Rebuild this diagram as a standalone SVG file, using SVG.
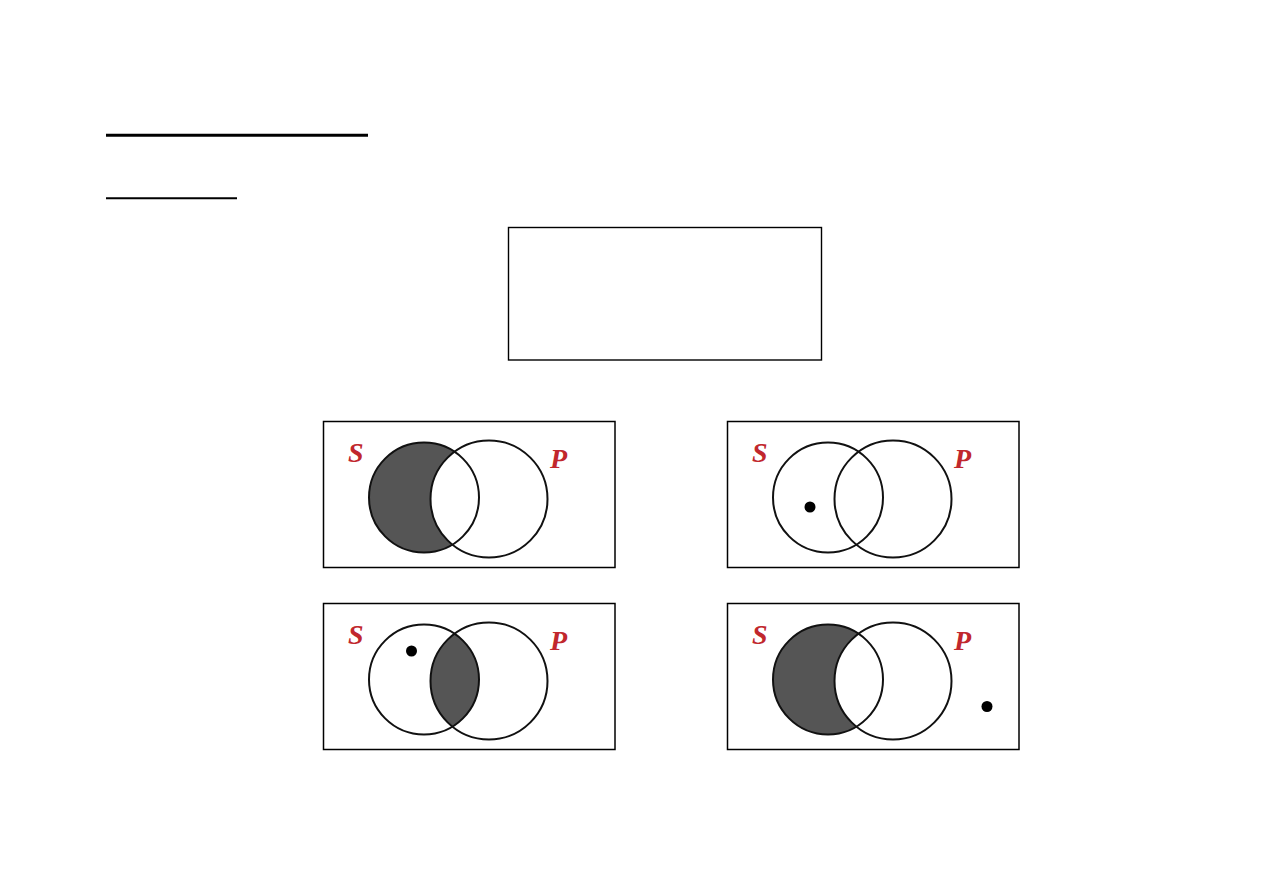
<svg xmlns="http://www.w3.org/2000/svg" xmlns:xlink="http://www.w3.org/1999/xlink" width="1263" height="893" viewBox="0 0 1263 893">
<style>
.frame{fill:#fff;stroke:#000;stroke-width:1.5}
.circ{fill:none;stroke:#111;stroke-width:2}
.shade{fill:#555}
.lbl{font-family:"Liberation Serif",serif;font-style:italic;font-weight:bold;font-size:28px;fill:#c1272d}
.dot{fill:#000}
</style>
<defs>
<clipPath id="clipS"><circle cx="424" cy="497.5" r="55"/></clipPath>
<g id="base">
<rect class="frame" x="323.5" y="421.5" width="291.5" height="146"/>
<text class="lbl" x="348" y="462">S</text>
<text class="lbl" x="550" y="468">P</text>
</g>
<g id="circles">
<circle class="circ" cx="424" cy="497.5" r="55"/>
<circle class="circ" cx="489" cy="499" r="58.5"/>
</g>
</defs>
<g id="title-rules">
<line x1="106" y1="135.3" x2="368" y2="135.3" stroke="#000" stroke-width="3"/>
<line x1="106" y1="198.2" x2="237" y2="198.2" stroke="#000" stroke-width="2"/>
</g>
<g id="empty-box">
<rect x="508.5" y="227.5" width="313" height="132.5" fill="#fff" stroke="#000" stroke-width="1.4"/>
</g>
<g id="panel-A">
<use xlink:href="#base"/>
<circle class="shade" cx="424" cy="497.5" r="55"/>
<circle cx="489" cy="499" r="58.5" fill="#fff"/>
<use xlink:href="#circles"/>
</g>
<g id="panel-I" transform="translate(404,0)">
<use xlink:href="#base"/>
<use xlink:href="#circles"/>
<circle class="dot" cx="406" cy="507" r="5.5"/>
</g>
<g id="panel-O" transform="translate(0,182)">
<use xlink:href="#base"/>
<circle class="shade" cx="489" cy="499" r="58.5" clip-path="url(#clipS)"/>
<use xlink:href="#circles"/>
<circle class="dot" cx="411.5" cy="469" r="5.5"/>
</g>
<g id="panel-E" transform="translate(404,182)">
<use xlink:href="#base"/>
<circle class="shade" cx="424" cy="497.5" r="55"/>
<circle cx="489" cy="499" r="58.5" fill="#fff"/>
<use xlink:href="#circles"/>
<circle class="dot" cx="583" cy="524.5" r="5.5"/>
</g>
<g id="connectors"></g>
</svg>
